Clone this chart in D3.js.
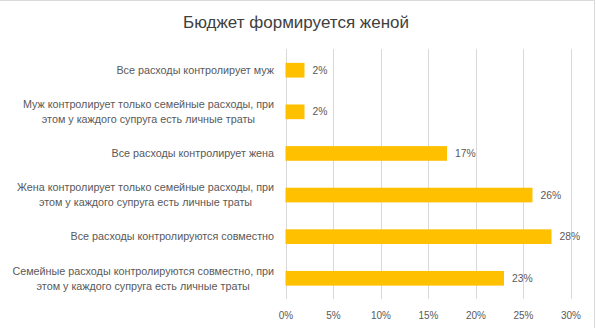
<!DOCTYPE html>
<html>
<head>
<meta charset="utf-8">
<script src="https://cdn.jsdelivr.net/npm/d3@7"></script>
<style>
html,body{margin:0;padding:0;background:#fff;}
svg{display:block;}
</style>
</head>
<body>
<svg id="chart" width="596" height="328"></svg>
<script>
const title = "Бюджет формируется женой";
const categories = [
  "Все расходы контролирует муж",
  "Муж контролирует только семейные расходы, при этом у каждого супруга есть личные траты",
  "Все расходы контролирует жена",
  "Жена контролирует только семейные расходы, при этом у каждого супруга есть личные траты",
  "Все расходы контролируются совместно",
  "Семейные расходы контролируются совместно, при этом у каждого супруга есть личные траты"
];
const values = [2, 2, 17, 26, 28, 23];
const tickValues = [0, 5, 10, 15, 20, 25, 30];

const W = 596, H = 328;
const FONT = "'Liberation Sans',Arial,sans-serif";
const TEXT = "#595959";
const svg = d3.select("#chart");

svg.append("rect").attr("width", W).attr("height", H).attr("fill", "#fff");
svg.append("line").attr("x1", 0).attr("x2", 595).attr("y1", 0.5).attr("y2", 0.5).attr("stroke", "#d9d9d9");
svg.append("line").attr("x1", 594.5).attr("x2", 594.5).attr("y1", 0).attr("y2", H).attr("stroke", "#d9d9d9");

const x = d3.scaleLinear().domain([0, 30]).range([285.5, 570.5]);
const y = d3.scaleBand().domain(categories).range([49.4, 299.1]).paddingInner(0.647).paddingOuter(0.3235);

function fit(sel, target) {
  const n = sel.node();
  const fs = parseFloat(sel.attr("font-size"));
  const w = n.getComputedTextLength();
  if (w > 0) sel.attr("font-size", (fs * target / w).toFixed(2));
  return parseFloat(sel.attr("font-size"));
}

// title
const t = svg.append("text").attr("x", 296).attr("y", 28.3).attr("text-anchor", "middle")
  .attr("font-family", FONT).attr("font-size", 18).attr("fill", "#404040").text(title);
fit(t, 226);

// gridlines + x axis
const xAxis = d3.axisBottom(x).tickValues(tickValues).tickFormat(d => d + "%").tickSize(-(299.1 - 49.4)).tickPadding(9);
const gx = svg.append("g").attr("transform", "translate(0,299.1)").call(xAxis);
gx.select(".domain").remove();
gx.selectAll(".tick line").attr("stroke", "#d9d9d9").attr("shape-rendering", "crispEdges");
const tickTexts = gx.selectAll(".tick text").attr("fill", TEXT).attr("font-family", FONT).attr("font-size", 12);
let tfs = 12;
tickTexts.each(function(d){ if (d === 30) tfs = fit(d3.select(this), 20); });
tickTexts.attr("font-size", tfs).attr("dy", null).attr("y", 19.5);

// bars
svg.append("g").selectAll("rect").data(values).join("rect")
  .attr("x", x(0))
  .attr("y", (d, i) => y(categories[i]))
  .attr("width", d => x(d) - x(0))
  .attr("height", y.bandwidth())
  .attr("fill", "#ffc000");

// value labels
const vl = svg.append("g").selectAll("text").data(values).join("text")
  .attr("x", d => x(d) + 8)
  .attr("y", (d, i) => y(categories[i]) + y.bandwidth() / 2)
  .attr("dy", "0.35em")
  .attr("font-family", FONT).attr("font-size", 12).attr("fill", TEXT)
  .text(d => d + "%");
let vfs = fit(d3.select(vl.nodes()[4]), 20.7);
vl.attr("font-size", vfs);

// category labels
const lines = categories.map(c => c.replace(", при ", ", при\n").split("\n"));
const cg = svg.append("g");
const probe = cg.append("text").attr("font-family", FONT).attr("font-size", 12)
  .text("Семейные расходы контролируются совместно, при");
const cfs = fit(probe, 261.6);
probe.remove();
const RIGHT = 274;
const lineH = 15;
lines.forEach((ls, i) => {
  const cy = y(categories[i]) + y.bandwidth() / 2;
  const g = cg.append("text").attr("font-family", FONT).attr("font-size", cfs).attr("fill", TEXT);
  const spans = ls.map(l => g.append("tspan").text(l));
  let maxW = 0;
  spans.forEach(s => { maxW = Math.max(maxW, s.node().getComputedTextLength()); });
  const cx = RIGHT - maxW / 2;
  g.attr("text-anchor", "middle");
  spans.forEach((s, j) => {
    s.attr("x", cx).attr("y", cy + (j - (ls.length - 1) / 2) * lineH).attr("dy", "0.35em");
  });
});
</script>
</body>
</html>
